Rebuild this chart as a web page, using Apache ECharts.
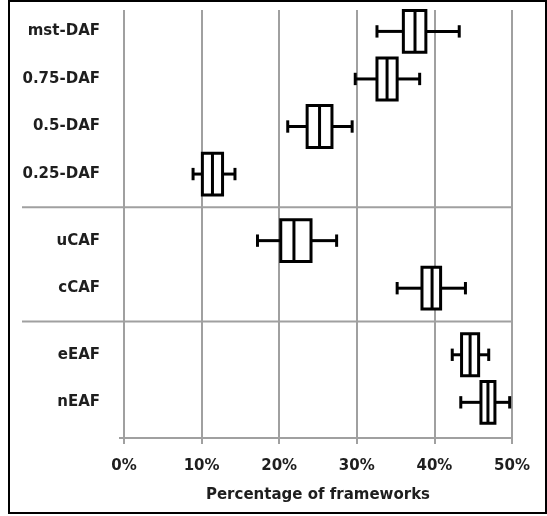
<!DOCTYPE html>
<html>
<head>
<meta charset="utf-8">
<script src="https://cdn.jsdelivr.net/npm/echarts@6/dist/echarts.min.js"></script>
<style>
  html, body { margin: 0; padding: 0; background: #fff; }
  #chart { width: 547px; height: 516px; }
</style>
</head>
<body>
<div id="chart"></div>
<script>
// ---- data (percent of frameworks) ----
const categories = ['mst-DAF', '0.75-DAF', '0.5-DAF', '0.25-DAF', 'uCAF', 'cCAF', 'eEAF', 'nEAF'];
const groupOf    = ['DAF', 'DAF', 'DAF', 'DAF', 'CAF', 'CAF', 'EAF', 'EAF'];
const whiskerLow  = [32.6, 29.8, 21.1,  8.9, 17.2, 35.2, 42.3, 43.4];
const quartile1   = [36.0, 32.6, 23.6, 10.1, 20.2, 38.4, 43.5, 46.0];
const medians     = [37.5, 33.9, 25.2, 11.4, 21.9, 39.7, 44.6, 46.9];
const quartile3   = [38.9, 35.2, 26.8, 12.7, 24.1, 40.8, 45.7, 47.8];
const whiskerHigh = [43.2, 38.1, 29.4, 14.3, 27.4, 44.0, 47.0, 49.7];
const xTicks = [0, 10, 20, 30, 40, 50];

// ---- layout: row positions derived from group structure ----
const TOP_PAD = 0.45, GROUP_GAP = 0.4, BOTTOM_PAD = 0.75;
const rowPos = [];
const sepPos = [];
let gIdx = 0;
categories.forEach((c, i) => {
  if (i > 0 && groupOf[i] !== groupOf[i - 1]) {
    gIdx++;
    sepPos.push(rowPos[i - 1] + (1 + GROUP_GAP) / 2);
  }
  rowPos.push(TOP_PAD + i + gIdx * GROUP_GAP);
});
const yMax = rowPos[rowPos.length - 1] + BOTTOM_PAD;
const nameByPos = {};
rowPos.forEach((p, i) => { nameByPos[p.toFixed(3)] = categories[i]; });

const boxData = categories.map((c, i) => [rowPos[i], whiskerLow[i], quartile1[i], medians[i], quartile3[i], whiskerHigh[i]]);

const GRID_COLOR = '#a0a0a0';
const TEXT_COLOR = '#1e1e1e';
const FONT = 'DejaVu Sans';

const chart = echarts.init(document.getElementById('chart'), null, { renderer: 'canvas' });

chart.setOption({
  animation: false,
  backgroundColor: '#fff',
  grid: { left: 124, right: 35, top: 10, bottom: 78, containLabel: false },
  xAxis: {
    type: 'value',
    position: 'bottom',
    min: xTicks[0],
    max: xTicks[xTicks.length - 1],
    interval: 10,
    axisLine: { show: true, onZero: false, lineStyle: { color: GRID_COLOR, width: 2 } },
    axisTick: { show: true, length: 6, lineStyle: { color: GRID_COLOR, width: 2 } },
    splitLine: { show: true, lineStyle: { color: GRID_COLOR, width: 2 } },
    axisLabel: {
      formatter: '{value}%',
      color: TEXT_COLOR,
      fontFamily: FONT,
      fontWeight: 'bold',
      fontSize: 15,
      margin: 21
    },
    name: 'Percentage of frameworks',
    nameLocation: 'middle',
    nameGap: 50,
    nameTextStyle: { color: TEXT_COLOR, fontFamily: FONT, fontWeight: 'bold', fontSize: 15 }
  },
  yAxis: {
    type: 'value',
    inverse: true,
    min: 0,
    max: yMax,
    splitLine: { show: false },
    axisLine: { show: false },
    axisTick: { show: true, length: 5, customValues: [yMax], lineStyle: { color: GRID_COLOR, width: 2 } },
    axisLabel: {
      customValues: rowPos,
      formatter: v => nameByPos[Number(v).toFixed(3)] || '',
      color: TEXT_COLOR,
      fontFamily: FONT,
      fontWeight: 'bold',
      fontSize: 15,
      margin: 24
    }
  },
  series: [
    {
      type: 'custom',
      clip: false,
      silent: true,
      data: sepPos.map(p => [p]),
      encode: { y: 0 },
      renderItem: function (params, api) {
        const p = api.value(0);
        const right = api.coord([xTicks[xTicks.length - 1], p]);
        return {
          type: 'line',
          shape: { x1: 22, y1: right[1], x2: right[0], y2: right[1] },
          style: { stroke: GRID_COLOR, lineWidth: 2 }
        };
      }
    },
    {
      type: 'custom',
      clip: false,
      silent: true,
      data: boxData,
      encode: { y: 0, x: [1, 2, 3, 4, 5] },
      renderItem: function (params, api) {
        const p = api.value(0);
        const pMin = api.coord([api.value(1), p]);
        const pQ1 = api.coord([api.value(2), p]);
        const pMed = api.coord([api.value(3), p]);
        const pQ3 = api.coord([api.value(4), p]);
        const pMax = api.coord([api.value(5), p]);
        const boxH = api.size([0, 0.88])[1];
        const capH = api.size([0, 0.26])[1];
        const y = pMin[1];
        const st = { stroke: '#000', lineWidth: 3, fill: null };
        return {
          type: 'group',
          children: [
            { type: 'line', shape: { x1: pMin[0], y1: y, x2: pQ1[0], y2: y }, style: st },
            { type: 'line', shape: { x1: pQ3[0], y1: y, x2: pMax[0], y2: y }, style: st },
            { type: 'line', shape: { x1: pMin[0], y1: y - capH / 2, x2: pMin[0], y2: y + capH / 2 }, style: st },
            { type: 'line', shape: { x1: pMax[0], y1: y - capH / 2, x2: pMax[0], y2: y + capH / 2 }, style: st },
            { type: 'rect', shape: { x: pQ1[0], y: y - boxH / 2, width: pQ3[0] - pQ1[0], height: boxH },
              style: { stroke: '#000', lineWidth: 3, fill: '#fff' } },
            { type: 'line', shape: { x1: pMed[0], y1: y - boxH / 2, x2: pMed[0], y2: y + boxH / 2 }, style: st }
          ]
        };
      }
    }
  ],
  graphic: [
    {
      type: 'rect',
      silent: true,
      z: 100,
      shape: { x: 9, y: 1, width: 537, height: 512 },
      style: { fill: null, stroke: '#000', lineWidth: 2 }
    }
  ]
});
</script>
</body>
</html>
